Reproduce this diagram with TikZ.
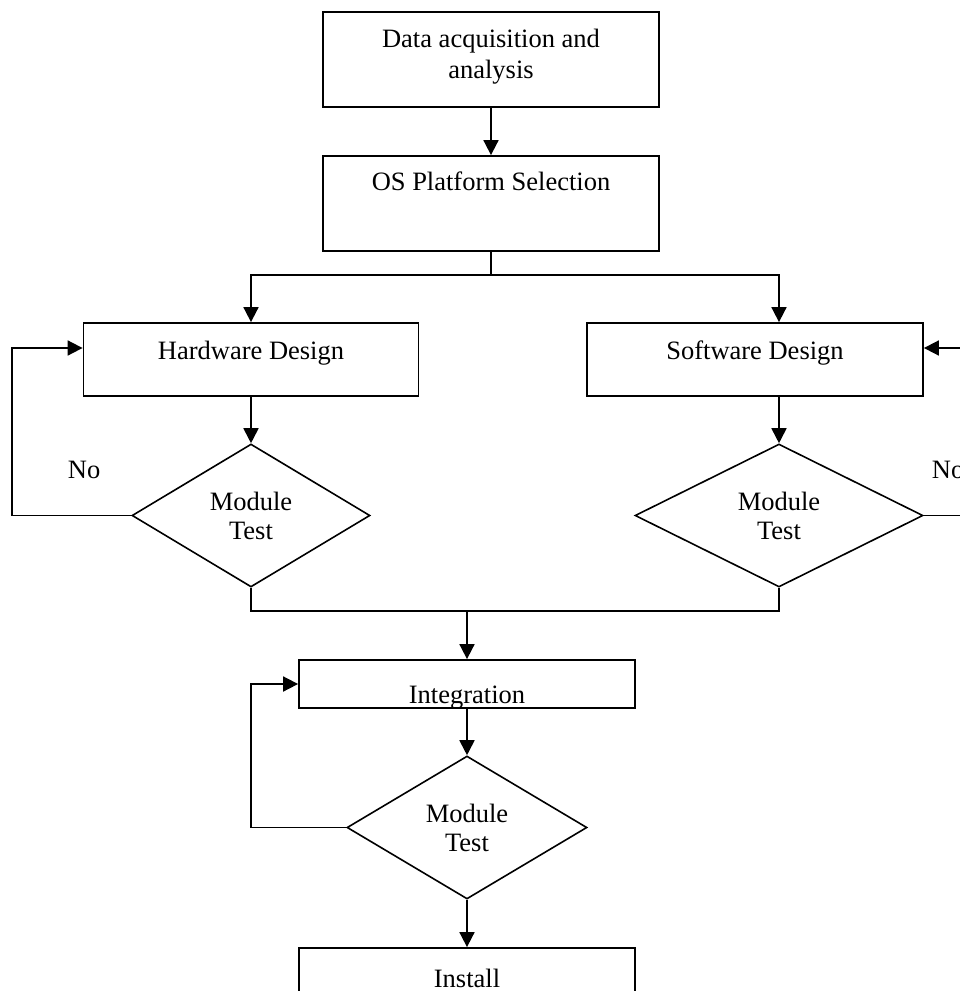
\documentclass[tikz,border=0pt]{standalone}
\usepackage{fontspec}
\setmainfont{Liberation Serif}
\usetikzlibrary{shapes.geometric,arrows.meta,calc}
\begin{document}
\begin{tikzpicture}[x=1pt,y=-1pt,
  line width=1.8pt,
  boxnode/.style={draw,rectangle,inner sep=0pt,minimum width=#1},
  dia/.style={draw,diamond,inner sep=0pt,line width=1.6pt},
  txt/.style={anchor=base,inner sep=0pt,font=\fontsize{26.5}{30}\selectfont},
  arr/.style={-{Triangle[length=15pt,width=15pt]}}]
\useasboundingbox (0,0) rectangle (960,991);
% boxes
\node[boxnode=336pt,minimum height=95pt] (b1) at (491,59.5) {};
\node[boxnode=336pt,minimum height=95pt] (b2) at (491,203.5) {};
\node[boxnode=335pt,minimum height=73pt] (hw) at (251,359.5) {};
\node[boxnode=336pt,minimum height=73pt] (sw) at (755,359.5) {};
\node[dia,minimum width=238pt,minimum height=143pt] (d1) at (251,515.5) {};
\node[dia,minimum width=288pt,minimum height=143pt] (d2) at (779,515.5) {};
\node[boxnode=336pt,minimum height=48pt] (int) at (467,684) {};
\node[dia,minimum width=240pt,minimum height=143pt] (d3) at (467,827.5) {};
\node[boxnode=336pt,minimum height=80pt] (inst) at (467,988) {};
% texts
\node[txt] (t1a) at (491,47) {Data acquisition and};
\node[txt] (t1b) at (491,78) {analysis};
\node[txt] (t2) at (491,190) {OS Platform Selection};
\node[txt] (thw) at (251,359) {Hardware Design};
\node[txt] (tsw) at (755,359) {Software Design};
\node[txt] (td1a) at (251,510) {Module};
\node[txt] (td1b) at (251,539) {Test};
\node[txt] (td2a) at (779,510) {Module};
\node[txt] (td2b) at (779,539) {Test};
\begin{scope}
\clip (299,660) rectangle (635,708);
\node[txt] (tint) at (467,703) {Integration};
\end{scope}
\node[txt] (td3a) at (467,822) {Module};
\node[txt] (td3b) at (467,851) {Test};
\node[txt] (tinst) at (467,987) {Install};
\node[txt,anchor=base west] (no1) at (67,478) {No};
\node[txt,anchor=base west] (no2) at (931,478) {No};
% connectors
\coordinate (split) at (491,275);
\coordinate (merge) at (467,611);
\coordinate (lx1) at (12,515.5);
\coordinate (rx1) at (975,515.5);
\coordinate (lx3) at (251,827.5);
\draw[arr] (b1.south) -- (b2.north);
\draw (b2.south) -- (split);
\draw[arr] (split) -| (hw.north);
\draw[arr] (split) -| (d2.north |- sw.north);
\draw[arr] (hw.south) -- (d1.north);
\draw[arr] (d2.north |- sw.south) -- (d2.north);
\draw[arr] (d1.west) -- (lx1) |- ([yshift=11.5pt]hw.west);
\draw[arr] (d2.east) -- (rx1) |- ([yshift=11.5pt]sw.east);
\draw (d1.south) |- (merge) -| (d2.south);
\draw[arr] (merge) -- (int.north);
\draw[arr] (int.south) -- (d3.north);
\draw[arr] (d3.west) -- (lx3) |- (int.west);
\draw[arr] (d3.south) -- (inst.north);
\end{tikzpicture}
\end{document}
